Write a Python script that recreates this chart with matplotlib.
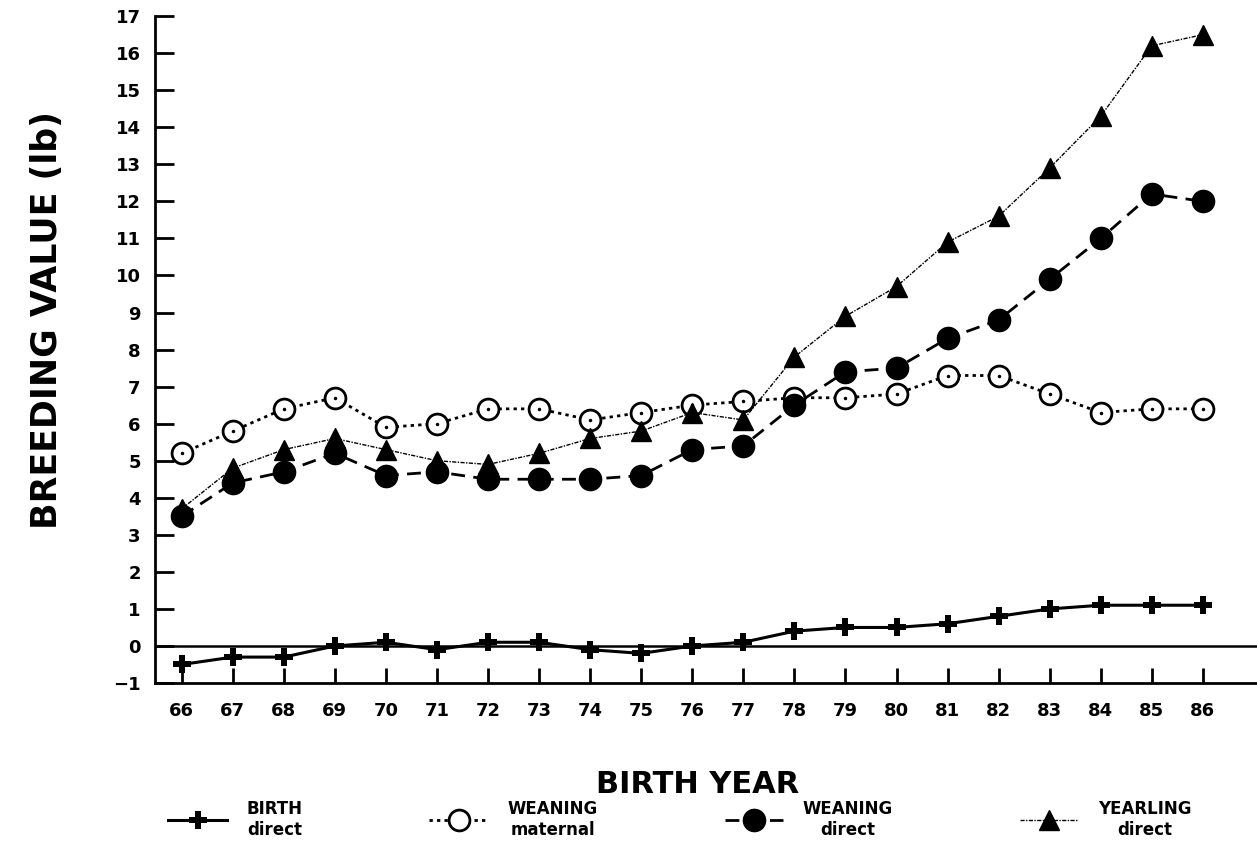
import matplotlib
matplotlib.use("Agg")
import matplotlib.pyplot as plt

# DATA

years = list(range(66, 87))

birth_direct = [-0.5, -0.3, -0.3, 0.0, 0.1, -0.1, 0.1, 0.1, -0.1, -0.2, 0.0,
                0.1, 0.4, 0.5, 0.5, 0.6, 0.8, 1.0, 1.1, 1.1, 1.1]
weaning_maternal = [5.2, 5.8, 6.4, 6.7, 5.9, 6.0, 6.4, 6.4, 6.1, 6.3, 6.5,
                    6.6, 6.7, 6.7, 6.8, 7.3, 7.3, 6.8, 6.3, 6.4, 6.4]
weaning_direct = [3.5, 4.4, 4.7, 5.2, 4.6, 4.7, 4.5, 4.5, 4.5, 4.6, 5.3,
                  5.4, 6.5, 7.4, 7.5, 8.3, 8.8, 9.9, 11.0, 12.2, 12.0]
yearling_direct = [3.7, 4.8, 5.3, 5.6, 5.3, 5.0, 4.9, 5.2, 5.6, 5.8, 6.3,
                   6.1, 7.8, 8.9, 9.7, 10.9, 11.6, 12.9, 14.3, 16.2, 16.5]

labels = ["BIRTH\ndirect", "WEANING\nmaternal", "WEANING\ndirect", "YEARLING\ndirect"]

plt.rcParams["font.family"] = ["DejaVu Sans"]
plt.rcParams["font.weight"] = "bold"

fig = plt.figure(figsize=(12.57, 8.49), dpi=100)
ax = fig.add_axes([0.123, 0.1955, 0.877, 0.7855])

l1, = ax.plot(years, birth_direct, color="black", linestyle="-", linewidth=2.2,
              marker="P", markersize=13, markeredgewidth=0)
l2, = ax.plot(years, weaning_maternal, color="black", linestyle=(0, (1.2, 1.5)), linewidth=2,
              marker="o", markersize=15, markerfacecolor="white", markeredgewidth=2)
ax.plot(years, weaning_maternal, linestyle="none", marker=".", markersize=3, color="black")
l3, = ax.plot(years, weaning_direct, color="black", linestyle=(0, (5, 3)), linewidth=2,
              marker="o", markersize=16)
l4, = ax.plot(years, yearling_direct, color="black", linestyle=(0, (3, 1, 1, 1)), linewidth=1,
              marker="^", markersize=15)

ax.axhline(0, color="black", linewidth=1.8)

ax.set_xlim(65.47, 87.06)
ax.set_ylim(-1, 17)
ax.set_xticks(years)
ax.set_xticklabels([str(y) for y in years])
ax.set_yticks(range(-1, 18))

ax.spines["top"].set_visible(False)
ax.spines["right"].set_visible(False)
ax.spines["left"].set_linewidth(2)
ax.spines["bottom"].set_linewidth(2)

ax.tick_params(axis="y", direction="in", length=14, width=2, labelsize=13, pad=10)
ax.tick_params(axis="x", direction="in", length=11, width=2, labelsize=13, pad=14)

ax.set_ylabel("BREEDING VALUE (lb)", fontsize=25, fontweight="heavy")
ax.yaxis.set_label_coords(-0.082, 0.544)
ax.set_xlabel("BIRTH YEAR", fontsize=22, fontweight="heavy")
ax.xaxis.set_label_coords(0.493, -0.13)

leg = fig.legend([l1, l2, l3, l4], labels, loc="center", ncol=4,
                 bbox_to_anchor=(0.541, 0.035), frameon=False, fontsize=12,
                 handlelength=3.5, columnspacing=7.6, handletextpad=1.2)
for t in leg.get_texts():
    t.set_multialignment("center")

fig.savefig("out.png", dpi=100)
